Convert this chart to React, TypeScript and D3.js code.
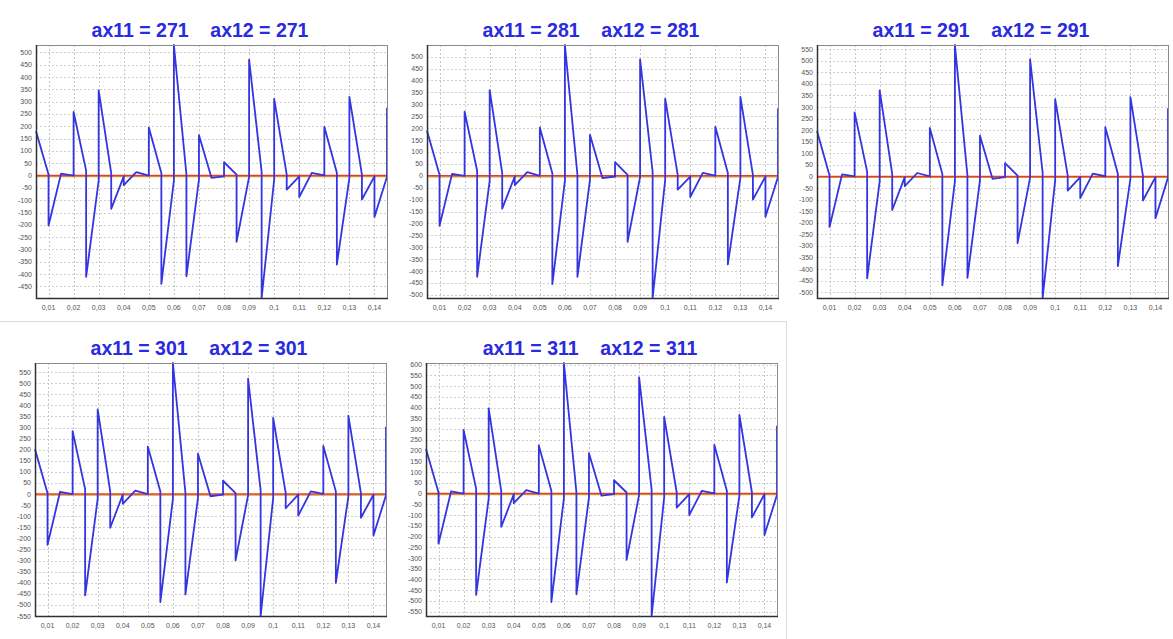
import { useEffect, useRef } from "react";
import * as d3 from "d3";

// x positions of the samples (step 0.005)
const steps = [
  0.005, 0.01, 0.015, 0.02, 0.025, 0.03, 0.035, 0.04, 0.045, 0.05, 0.055, 0.06,
  0.065, 0.07, 0.075, 0.08, 0.085, 0.09, 0.095, 0.1, 0.105, 0.11, 0.115, 0.12,
  0.125, 0.13, 0.135, 0.14, 0.145,
];

const xTicks = [
  0.01, 0.02, 0.03, 0.04, 0.05, 0.06, 0.07, 0.08, 0.09, 0.1, 0.11, 0.12, 0.13, 0.14,
];

const axValues = [271, 281, 291, 301, 311];

// value reached at each step, just before the jump
const arrive271 = [null, 4, 8, 0, 20, -20, 10, -3, 14, 0, 10, -20, 5, -16, -9, -3, 4, -5, 15, -16, 4, -3, 11, 1, 11, -9, 4, -3, -5];
const arrive281 = [null, 4, 8, 0, 21, -21, 11, -3, 15, 0, 11, -21, 5, -17, -10, -3, 4, -5, 16, -17, 4, -3, 12, 1, 12, -9, 4, -3, -5];
const arrive291 = [null, 4, 9, 0, 21, -21, 11, -3, 15, 0, 11, -21, 5, -17, -10, -3, 4, -5, 16, -17, 4, -3, 12, 1, 12, -10, 4, -3, -5];
const arrive301 = [null, 4, 10, 0, 22, -22, 12, -3, 15, 0, 12, -22, 5, -18, -10, -3, 4, -5, 17, -18, 4, -3, 12, 1, 12, -10, 4, -3, -6];
const arrive311 = [null, 5, 10, 0, 23, -23, 13, -3, 16, 0, 13, -23, 6, -18, -10, -3, 5, -6, 17, -18, 5, -3, 13, 1, 13, -10, 5, -3, -6];

// value right after the jump at each step
const leave271 = [180, -203, 8, 258, -411, 346, -135, -39, 14, 195, -440, 530, -409, 164, -9, 54, -269, 471, -497, 311, -57, -87, 11, 198, -361, 319, -97, -168, 275];
const leave281 = [189, -210, 8, 269, -424, 360, -138, -39, 15, 203, -455, 549, -424, 172, -10, 57, -277, 489, -513, 324, -58, -89, 12, 206, -372, 331, -100, -172, 284];
const leave291 = [196, -218, 9, 277, -440, 372, -145, -42, 15, 210, -470, 568, -438, 176, -10, 58, -288, 506, -525, 334, -61, -93, 12, 213, -387, 343, -104, -180, 295];
const leave301 = [202, -229, 10, 284, -457, 382, -152, -44, 15, 214, -487, 591, -453, 182, -10, 60, -299, 520, -550, 343, -64, -97, 12, 217, -401, 353, -107, -187, 304];
const leave311 = [207, -233, 10, 296, -472, 397, -155, -45, 16, 224, -505, 608, -469, 188, -10, 62, -309, 541, -570, 357, -65, -100, 13, 227, -414, 366, -111, -193, 316];

const arrives = [arrive271, arrive281, arrive291, arrive301, arrive311];
const leaves = [leave271, leave281, leave291, leave301, leave311];

const commaFormat = d3.formatLocale({
  decimal: ",",
  thousands: " ",
  grouping: [3],
  currency: ["", ""],
}).format("~g");

const FONT = "'Liberation Sans', Arial, sans-serif";

export default function App() {
  const svgRef = useRef<SVGSVGElement>(null);

  useEffect(() => {
    if (!svgRef.current) return;
    const root = d3.select(svgRef.current);
    root.selectAll("*").remove();

    root.append("rect").attr("width", 1173).attr("height", 639).attr("fill", "#fff");

    // cell separators
    root.append("line").attr("x1", 0).attr("x2", 787).attr("y1", 321.5).attr("y2", 321.5)
      .attr("stroke", "#dcdcdc");
    root.append("line").attr("x1", 786.5).attr("x2", 786.5).attr("y1", 321).attr("y2", 639)
      .attr("stroke", "#dcdcdc");

    const plotW = 351;
    const plotH = 253;
    const origins = [
      [36, 45],
      [427, 45],
      [817, 45],
      [35, 363],
      [426, 363],
    ];

    axValues.forEach((ax, p) => {
      const [ox, oy] = origins[p];
      const g = root.append("g").attr("transform", `translate(${ox},${oy})`);

      const pts: [number, number][] = [];
      steps.forEach((s, i) => {
        const a = arrives[p][i];
        if (a !== null) pts.push([s, a]);
        pts.push([s, leaves[p][i]]);
      });

      const [yMin, yMax] = d3.extent(pts, (d) => d[1]) as [number, number];
      const x = d3.scaleLinear().domain([0.005, 0.145]).range([0, plotW]);
      const y = d3.scaleLinear().domain([yMin, yMax]).range([plotH, 0]);
      const yTicks = d3.range(Math.ceil(yMin / 50) * 50, yMax + 0.1, 50);

      // grid
      g.append("g")
        .selectAll("line")
        .data(yTicks)
        .join("line")
        .attr("x1", 0)
        .attr("x2", plotW)
        .attr("y1", (d) => Math.round(y(d)) + 0.5)
        .attr("y2", (d) => Math.round(y(d)) + 0.5)
        .attr("stroke", "#d0d0d0")
        .attr("stroke-dasharray", "2,2");

      g.append("g")
        .selectAll("line")
        .data(xTicks)
        .join("line")
        .attr("x1", (d) => Math.round(x(d)) + 0.5)
        .attr("x2", (d) => Math.round(x(d)) + 0.5)
        .attr("y1", 0)
        .attr("y2", plotH)
        .attr("stroke", "#c8c8c8")
        .attr("stroke-dasharray", "2,2");

      // zero line
      g.append("line")
        .attr("x1", 0)
        .attr("x2", plotW)
        .attr("y1", y(0) + 1)
        .attr("y2", y(0) + 1)
        .attr("stroke", "#d8a040")
        .attr("stroke-width", 1.2);
      g.append("line")
        .attr("x1", 0)
        .attr("x2", plotW)
        .attr("y1", y(0))
        .attr("y2", y(0))
        .attr("stroke", "#e0402a")
        .attr("stroke-width", 1.5);

      const line = d3
        .line<[number, number]>()
        .x((d) => x(d[0]))
        .y((d) => y(d[1]));

      g.append("path")
        .datum(pts)
        .attr("fill", "none")
        .attr("stroke", "#3434e0")
        .attr("stroke-width", 1.8)
        .attr("stroke-linejoin", "round")
        .attr("d", line);

      // frame
      g.append("rect")
        .attr("x", 0.5)
        .attr("y", 0.5)
        .attr("width", plotW)
        .attr("height", plotH)
        .attr("fill", "none")
        .attr("stroke", "#8a8a8a");
      g.append("line").attr("x1", 0.5).attr("x2", 0.5).attr("y1", 0).attr("y2", plotH + 1)
        .attr("stroke", "#303030").attr("stroke-width", 1.5);
      g.append("line").attr("x1", 0).attr("x2", plotW + 1).attr("y1", plotH + 0.5).attr("y2", plotH + 0.5)
        .attr("stroke", "#303030").attr("stroke-width", 1.5);

      // tick labels
      g.append("g")
        .selectAll("text")
        .data(yTicks)
        .join("text")
        .attr("x", -4)
        .attr("y", (d) => y(d) + 2.5)
        .attr("text-anchor", "end")
        .style("font-family", FONT)
        .style("font-size", "7px")
        .style("fill", "#555")
        .text((d) => String(d));

      g.append("g")
        .selectAll("text")
        .data(xTicks)
        .join("text")
        .attr("x", (d) => x(d))
        .attr("y", plotH + 12)
        .attr("text-anchor", "middle")
        .style("font-family", FONT)
        .style("font-size", "7px")
        .style("fill", "#555")
        .text((d) => commaFormat(d));

      // title
      g.append("text")
        .attr("x", 164)
        .attr("y", -8)
        .attr("text-anchor", "middle")
        .style("font-family", FONT)
        .style("font-size", "19.5px")
        .style("font-weight", "bold")
        .style("fill", "#2a2ade")
        .style("white-space", "pre")
        .attr("xml:space", "preserve")
        .text(`ax11 = ${ax}    ax12 = ${ax}`);
    });
  }, []);

  return (
    <svg
      ref={svgRef}
      width={1173}
      height={639}
      style={{ position: "absolute", left: 0, top: 0, display: "block" }}
    />
  );
}
